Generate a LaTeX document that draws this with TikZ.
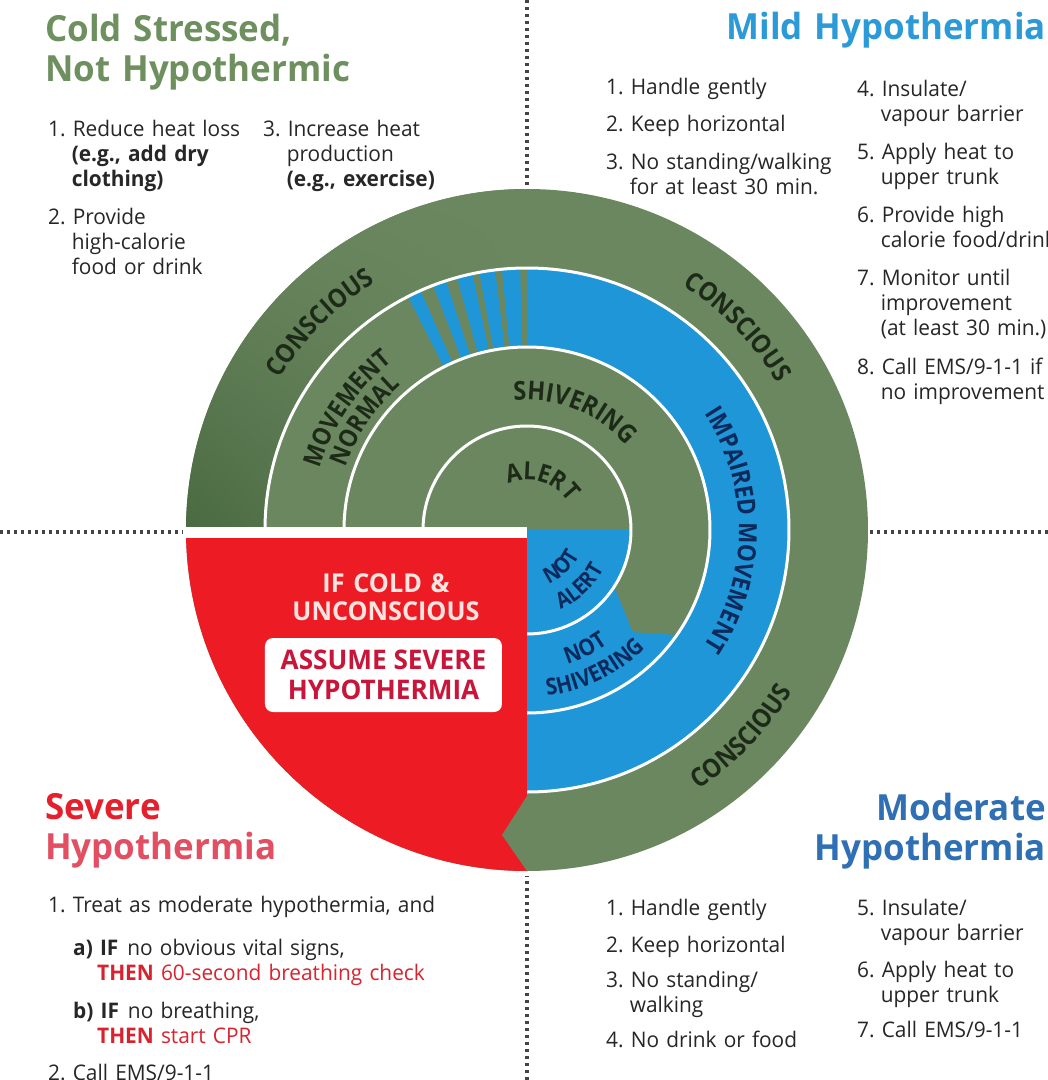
\documentclass[tikz,border=0pt]{standalone}
\usepackage{fontspec}
\setmainfont{Open Sans}[FakeStretch=0.97]
\newfontfamily\ringfont{Open Sans}[FakeStretch=0.9]
\usetikzlibrary{positioning,decorations.text,shadings}

\definecolor{ringgreen}{HTML}{6B8760}
\definecolor{darkgreen}{HTML}{4A6A42}
\definecolor{ringblue}{HTML}{1E96D8}
\definecolor{alarmred}{HTML}{ED1C24}
\definecolor{titlegreen}{HTML}{6E8F5E}
\definecolor{titleblue}{HTML}{2B9AD6}
\definecolor{titlenavy}{HTML}{2F6FB4}
\definecolor{titlered}{HTML}{E3202C}
\definecolor{titlepink}{HTML}{E24F62}
\definecolor{labeldark}{HTML}{1C2A17}
\definecolor{labelnavy}{HTML}{0E2A5C}
\definecolor{textred}{HTML}{D8232E}
\definecolor{boxred}{HTML}{C8163A}
\definecolor{palepink}{HTML}{FCE4E1}
\definecolor{bodytext}{HTML}{262626}
\definecolor{dotgray}{HTML}{444444}

\newcommand{\stepindent}{\hspace*{1.1em}}

\tikzstyle{heading} = [inner sep=0pt,
                       text width=420pt,
                       font=\fontsize{36}{40}\selectfont\bfseries]
\tikzstyle{steps} = [inner sep=0pt,
                     anchor=base west,
                     text width=250pt,
                     align=left,
                     text=bodytext,
                     font=\fontsize{21.5}{25}\selectfont]
\tikzstyle{ringtext} = [decorate,
                        decoration={text along path,
                                    text align=center,
                                    text color=labeldark}]
\tikzstyle{separator} = [dotgray,
                         line width=3.5pt,
                         dash pattern=on 3.5pt off 3.5pt]
\tikzstyle{ringline} = [white, line width=3pt]

\begin{document}
\begin{tikzpicture}[x=1pt, y=1pt]
    \useasboundingbox (-527,-550) rectangle (521,530);

    % rings
    \fill[ringgreen] (0,0) circle[radius=341pt];
    \shade[lower left=darkgreen, upper left=ringgreen, upper right=ringgreen, lower right=ringgreen]
      (180:341pt) arc[start angle=180, end angle=90, radius=341pt]
      -- (90:262pt) arc[start angle=90, end angle=180, radius=262pt] -- cycle;
    \fill[ringblue] (90:262pt) arc[start angle=90, end angle=-90, radius=262pt]
      -- (-90:183pt) arc[start angle=-90, end angle=90, radius=183pt] -- cycle;
    \foreach \a/\b in {91.5/95.5, 97/100.5, 102/105.5, 108/111, 114/117}
      \fill[ringblue] (\a:183pt) -- (\a:262pt) arc[start angle=\a, end angle=\b, radius=262pt]
        -- (\b:183pt) arc[start angle=\b, end angle=\a, radius=183pt] -- cycle;
    \fill[ringblue] (-90:104pt) arc[start angle=-90, end angle=-33, radius=104pt]
      -- (-44:147pt) -- (-35:183pt) arc[start angle=-35, end angle=-90, radius=183pt] -- cycle;
    \fill[ringblue] (0,0) -- (0:104pt) arc[start angle=0, end angle=-90, radius=104pt] -- cycle;
    \foreach \r in {104,183,262}
      \draw[ringline] (0,0) circle[radius=\r pt];

    % unconscious quarter
    \fill[alarmred] (0,0) -- (180:341pt) arc[start angle=180, end angle=270, radius=341pt] -- cycle;
    \fill[white] (-343,3) rectangle (0,-8);
    \fill[ringgreen] (0,-266) -- (-25,-305) -- (0,-341) -- cycle;

    % ring labels
    \path[ringtext, decoration={text={|\ringfont\bfseries\fontsize{26}{26}\selectfont|CONSCIOUS}}]
      (165:290pt) arc[start angle=165, end angle=105, radius=290pt];
    \path[ringtext, decoration={text={|\ringfont\bfseries\fontsize{26}{26}\selectfont|CONSCIOUS}}]
      (74:290pt) arc[start angle=74, end angle=14, radius=290pt];
    \path[ringtext, decoration={text={|\ringfont\bfseries\fontsize{26}{26}\selectfont|CONSCIOUS}}]
      (-74:311pt) arc[start angle=-74, end angle=-14, radius=311pt];
    \path[ringtext, decoration={text={|\ringfont\bfseries\fontsize{25}{25}\selectfont|MOVEMENT}}]
      (185:216pt) arc[start angle=185, end angle=107, radius=216pt];
    \path[ringtext, decoration={text={|\ringfont\bfseries\fontsize{25}{25}\selectfont|NORMAL}}]
      (185:192pt) arc[start angle=185, end angle=107, radius=192pt];
    \path[ringtext, decoration={text={|\ringfont\bfseries\fontsize{26}{26}\selectfont|SHIVERING}}]
      (112:130pt) arc[start angle=112, end angle=24, radius=130pt];
    \path[ringtext, decoration={text={|\ringfont\bfseries\fontsize{25}{25}\selectfont|ALERT}}]
      (140:50pt) arc[start angle=140, end angle=6, radius=50pt];
    \path[ringtext, decoration={text color=labelnavy, text={|\ringfont\bfseries\fontsize{25}{25}\selectfont|IMPAIRED MOVEMENT}}]
      (55:212pt) arc[start angle=55, end angle=-55, radius=212pt];
    \path[ringtext, decoration={text color=labelnavy, text={|\ringfont\bfseries\fontsize{22}{22}\selectfont|NOT}}]
      (-92:58pt) arc[start angle=-92, end angle=-2, radius=58pt];
    \path[ringtext, decoration={text color=labelnavy, text={|\ringfont\bfseries\fontsize{22}{22}\selectfont|ALERT}}]
      (-92:86pt) arc[start angle=-92, end angle=-2, radius=86pt];
    \path[ringtext, decoration={text color=labelnavy, text={|\ringfont\bfseries\fontsize{23}{23}\selectfont|NOT}}]
      (-100:140pt) arc[start angle=-100, end angle=-28, radius=140pt];
    \path[ringtext, decoration={text color=labelnavy, text={|\ringfont\bfseries\fontsize{23}{23}\selectfont|SHIVERING}}]
      (-100:167pt) arc[start angle=-100, end angle=-28, radius=167pt];

    % separators
    \coordinate (n) at (0,530);
    \coordinate (nc) at (0,345);
    \coordinate (s) at (0,-550);
    \coordinate (sc) at (0,-346);
    \coordinate (w) at (-527,-2);
    \coordinate (wc) at (-344,-2);
    \coordinate (e) at (521,-2);
    \coordinate (ec) at (343,-2);
    \draw[separator] (n) -- (nc) (s) -- (sc) (w) -- (wc) (e) -- (ec);

    % red quarter texts
    \node (0) [inner sep=0pt, anchor=base, text width=280pt, align=center, text=palepink,
               font=\fontsize{26}{28}\selectfont\bfseries] at (-141,-62) {IF COLD \&\\UNCONSCIOUS};
    \node (1) [fill=white, rounded corners=8pt, minimum width=237pt, minimum height=74pt,
               inner sep=0pt, align=center, text=boxred,
               font=\fontsize{27}{30}\selectfont\bfseries] at (-143.5,-145) {ASSUME SEVERE\\HYPOTHERMIA};

    % cold stressed
    \node (2) [heading, anchor=base west, align=left, text=titlegreen] at (-482,488) {Cold Stressed,\\Not Hypothermic};
    \node (3) [steps] at (-479,393) {1.~Reduce heat loss\\\stepindent\textbf{(e.g., add dry}\\\stepindent\textbf{clothing)}\\[13pt]2.~Provide\\\stepindent high-calorie\\\stepindent food or drink};
    \node (4) [steps, right=215pt of 3.base west, anchor=base west] {3.~Increase heat\\\stepindent production\\\stepindent\textbf{(e.g., exercise)}};

    % mild
    \node (5) [heading, anchor=base east, align=right, text=titleblue] at (519,490) {Mild Hypothermia};
    \node (6) [steps] at (79,435) {1.~Handle gently\\[12pt]2.~Keep horizontal\\[13pt]3.~No standing/walking\\\stepindent for at least 30 min.};
    \node (7) [steps, right=251pt of 6.base west, anchor=base west, yshift=-2pt] {4.~Insulate/\\\stepindent vapour barrier\\[13pt]5.~Apply heat to\\\stepindent upper trunk\\[13pt]6.~Provide high\\\stepindent calorie food/drink\\[13pt]7.~Monitor until\\\stepindent improvement\\\stepindent (at least 30 min.)\\[14pt]8.~Call EMS/9-1-1 if\\\stepindent no improvement};

    % severe
    \node (8) [heading, anchor=base west, align=left] at (-482,-289) {\textcolor{titlered}{Severe}\\\textcolor{titlepink}{Hypothermia}};
    \node (9) [steps, text width=430pt] at (-479,-382) {1.~Treat as moderate hypothermia, and\\[18pt]\hspace*{25pt}\textbf{a)~IF}\hspace{9pt}no obvious vital signs,\\\hspace*{49pt}\textcolor{textred}{\textbf{THEN} 60-second breathing check}\\[13pt]\hspace*{25pt}\textbf{b)~IF}\hspace{9pt}no breathing,\\\hspace*{49pt}\textcolor{textred}{\textbf{THEN} start CPR}\\[12pt]2.~Call EMS/9-1-1};

    % moderate
    \node (10) [heading, anchor=base east, align=right, text=titlenavy] at (519,-290) {Moderate\\Hypothermia};
    \node (11) [steps] at (79,-385) {1.~Handle gently\\[12pt]2.~Keep horizontal\\[10pt]3.~No standing/\\\stepindent walking\\[10pt]4.~No drink or food};
    \node (12) [steps, right=251pt of 11.base west, anchor=base west] {5.~Insulate/\\\stepindent vapour barrier\\[12pt]6.~Apply heat to\\\stepindent upper trunk\\[10pt]7.~Call EMS/9-1-1};
\end{tikzpicture}
\end{document}
